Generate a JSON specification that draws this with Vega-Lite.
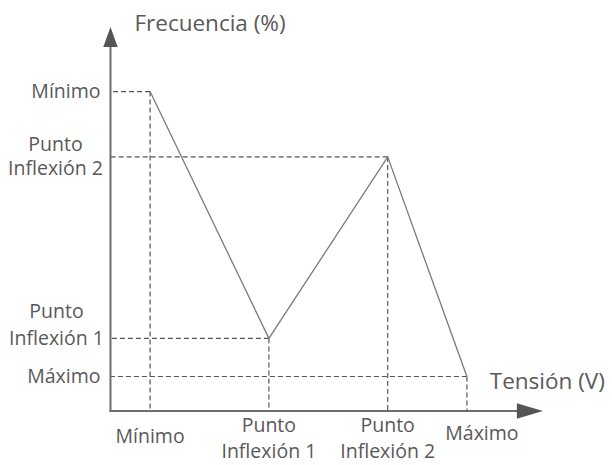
{
  "$schema": "https://vega.github.io/schema/vega-lite/v6.json",
  "width": 612,
  "height": 465,
  "padding": 0,
  "autosize": {"type": "none"},
  "background": "white",
  "config": {"view": {"stroke": null}, "text": {"font": "Open Sans", "color": "#595959"}},
  "datasets": {
    "pts": [
      {"k": 1, "label": "Mínimo", "tension": 1, "frecuencia": 8.8},
      {"k": 2, "label": "Punto\nInflexión 1", "tension": 4, "frecuencia": 2},
      {"k": 3, "label": "Punto\nInflexión 2", "tension": 7, "frecuencia": 7},
      {"k": 4, "label": "Máximo", "tension": 9, "frecuencia": 0.95}
    ]
  },
  "data": {"name": "pts"},
  "layer": [
    {
      "mark": {"type": "rule", "strokeDash": [5, 3], "strokeWidth": 1.2, "color": "#555555"},
      "encoding": {
        "x": {"field": "tension", "type": "quantitative", "scale": {"domain": [-2.79, 12.664], "nice": false, "zero": false}, "axis": null},
        "x2": {"datum": 0},
        "y": {"field": "frecuencia", "type": "quantitative", "scale": {"domain": [-1.488, 11.322], "nice": false, "zero": false}, "axis": null}
      }
    },
    {
      "mark": {"type": "rule", "strokeDash": [5, 3], "strokeWidth": 1.2, "color": "#555555"},
      "encoding": {
        "x": {"field": "tension", "type": "quantitative", "scale": {"domain": [-2.79, 12.664], "nice": false, "zero": false}, "axis": null},
        "y": {"field": "frecuencia", "type": "quantitative", "scale": {"domain": [-1.488, 11.322], "nice": false, "zero": false}, "axis": null},
        "y2": {"datum": 0}
      }
    },
    {
      "mark": {"type": "line", "strokeWidth": 1.3, "color": "#7a7a7a"},
      "encoding": {
        "x": {"field": "tension", "type": "quantitative", "scale": {"domain": [-2.79, 12.664], "nice": false, "zero": false}, "axis": null},
        "y": {"field": "frecuencia", "type": "quantitative", "scale": {"domain": [-1.488, 11.322], "nice": false, "zero": false}, "axis": null},
        "order": {"field": "tension", "type": "quantitative"}
      }
    },
    {
      "data": {"values": [{}]},
      "mark": {"type": "rule", "strokeWidth": 2, "color": "#6e6e6e"},
      "encoding": {
        "x": {"datum": 0, "type": "quantitative", "scale": {"domain": [-2.79, 12.664], "nice": false, "zero": false}, "axis": null},
        "y": {"datum": -0.03, "type": "quantitative", "scale": {"domain": [-1.488, 11.322], "nice": false, "zero": false}, "axis": null},
        "y2": {"datum": 10.1}
      }
    },
    {
      "data": {"values": [{}]},
      "mark": {"type": "rule", "strokeWidth": 2, "color": "#6e6e6e"},
      "encoding": {
        "x": {"datum": -0.025, "type": "quantitative", "scale": {"domain": [-2.79, 12.664], "nice": false, "zero": false}, "axis": null},
        "x2": {"datum": 10.3},
        "y": {"datum": 0, "type": "quantitative", "scale": {"domain": [-1.488, 11.322], "nice": false, "zero": false}, "axis": null}
      }
    },
    {
      "data": {"values": [{}]},
      "mark": {"type": "point", "filled": true, "opacity": 1, "color": "#555555", "size": 400, "shape": "M0,-1L0.72,1L-0.72,1Z"},
      "encoding": {
        "x": {"datum": 0, "type": "quantitative", "scale": {"domain": [-2.79, 12.664], "nice": false, "zero": false}, "axis": null},
        "y": {"datum": 10.3, "type": "quantitative", "scale": {"domain": [-1.488, 11.322], "nice": false, "zero": false}, "axis": null}
      }
    },
    {
      "data": {"values": [{}]},
      "mark": {"type": "point", "filled": true, "opacity": 1, "color": "#555555", "size": 676, "shape": "M1,0L-1,-0.6L-1,0.6Z"},
      "encoding": {
        "x": {"datum": 10.59, "type": "quantitative", "scale": {"domain": [-2.79, 12.664], "nice": false, "zero": false}, "axis": null},
        "y": {"datum": 0, "type": "quantitative", "scale": {"domain": [-1.488, 11.322], "nice": false, "zero": false}, "axis": null}
      }
    },
    {
      "data": {"values": [{"t": "Frecuencia (%)", "x": 2.513, "y": 10.66}]},
      "mark": {"type": "text", "fontSize": 22.5, "align": "center", "baseline": "middle"},
      "encoding": {
        "x": {"field": "x", "type": "quantitative", "scale": {"domain": [-2.79, 12.664], "nice": false, "zero": false}, "axis": null},
        "y": {"field": "y", "type": "quantitative", "scale": {"domain": [-1.488, 11.322], "nice": false, "zero": false}, "axis": null},
        "text": {"field": "t", "type": "nominal"}
      }
    },
    {
      "data": {"values": [{"t": "Tensión (V)", "x": 11.03, "y": 0.8}]},
      "mark": {"type": "text", "fontSize": 22.5, "align": "center", "baseline": "middle"},
      "encoding": {
        "x": {"field": "x", "type": "quantitative", "scale": {"domain": [-2.79, 12.664], "nice": false, "zero": false}, "axis": null},
        "y": {"field": "y", "type": "quantitative", "scale": {"domain": [-1.488, 11.322], "nice": false, "zero": false}, "axis": null},
        "text": {"field": "t", "type": "nominal"}
      }
    },
    {
      "transform": [{"filter": "datum.k == 1 || datum.k == 4"}],
      "mark": {"type": "text", "fontSize": 19.5, "align": "right", "baseline": "middle", "dx": -10},
      "encoding": {
        "x": {"datum": 0, "type": "quantitative", "scale": {"domain": [-2.79, 12.664], "nice": false, "zero": false}, "axis": null},
        "y": {"field": "frecuencia", "type": "quantitative", "scale": {"domain": [-1.488, 11.322], "nice": false, "zero": false}, "axis": null},
        "text": {"field": "label", "type": "nominal"}
      }
    },
    {
      "transform": [{"filter": "datum.k == 3"}],
      "mark": {"type": "text", "fontSize": 19.5, "align": "center", "baseline": "middle", "dx": -55, "dy": -12, "lineBreak": "\n", "lineHeight": 24.5},
      "encoding": {
        "x": {"datum": 0, "type": "quantitative", "scale": {"domain": [-2.79, 12.664], "nice": false, "zero": false}, "axis": null},
        "y": {"field": "frecuencia", "type": "quantitative", "scale": {"domain": [-1.488, 11.322], "nice": false, "zero": false}, "axis": null},
        "text": {"field": "label", "type": "nominal"}
      }
    },
    {
      "transform": [{"filter": "datum.k == 2"}],
      "mark": {"type": "text", "fontSize": 19.5, "align": "center", "baseline": "middle", "dx": -54, "dy": -26, "lineBreak": "\n", "lineHeight": 27},
      "encoding": {
        "x": {"datum": 0, "type": "quantitative", "scale": {"domain": [-2.79, 12.664], "nice": false, "zero": false}, "axis": null},
        "y": {"field": "frecuencia", "type": "quantitative", "scale": {"domain": [-1.488, 11.322], "nice": false, "zero": false}, "axis": null},
        "text": {"field": "label", "type": "nominal"}
      }
    },
    {
      "transform": [{"filter": "datum.k == 1"}],
      "mark": {"type": "text", "fontSize": 19.5, "align": "center", "baseline": "middle", "dy": 26},
      "encoding": {
        "x": {"field": "tension", "type": "quantitative", "scale": {"domain": [-2.79, 12.664], "nice": false, "zero": false}, "axis": null},
        "y": {"datum": 0, "type": "quantitative", "scale": {"domain": [-1.488, 11.322], "nice": false, "zero": false}, "axis": null},
        "text": {"field": "label", "type": "nominal"}
      }
    },
    {
      "transform": [{"filter": "datum.k == 4"}],
      "mark": {"type": "text", "fontSize": 19.5, "align": "center", "baseline": "middle", "dx": 15, "dy": 23},
      "encoding": {
        "x": {"field": "tension", "type": "quantitative", "scale": {"domain": [-2.79, 12.664], "nice": false, "zero": false}, "axis": null},
        "y": {"datum": 0, "type": "quantitative", "scale": {"domain": [-1.488, 11.322], "nice": false, "zero": false}, "axis": null},
        "text": {"field": "label", "type": "nominal"}
      }
    },
    {
      "transform": [{"filter": "datum.k == 2 || datum.k == 3"}],
      "mark": {"type": "text", "fontSize": 19.5, "align": "center", "baseline": "middle", "dy": 15, "lineBreak": "\n", "lineHeight": 26},
      "encoding": {
        "x": {"field": "tension", "type": "quantitative", "scale": {"domain": [-2.79, 12.664], "nice": false, "zero": false}, "axis": null},
        "y": {"datum": 0, "type": "quantitative", "scale": {"domain": [-1.488, 11.322], "nice": false, "zero": false}, "axis": null},
        "text": {"field": "label", "type": "nominal"}
      }
    }
  ]
}
